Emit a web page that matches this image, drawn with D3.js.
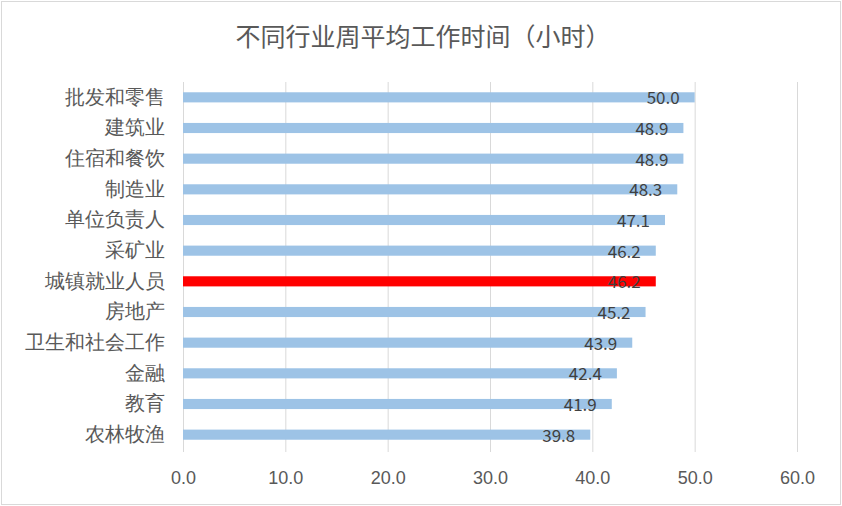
<!DOCTYPE html>
<html>
<head>
<meta charset="utf-8">
<script src="https://cdn.jsdelivr.net/npm/d3@7"></script>
<style>
  body { margin: 0; background: #fff; }
  svg { display: block; font-family: "Noto Sans CJK SC", "Noto Sans", sans-serif; }
</style>
</head>
<body>
<svg id="chart" width="842" height="506"></svg>
<script>
/* chart data */
const categories = ["批发和零售", "建筑业", "住宿和餐饮", "制造业", "单位负责人", "采矿业",
  "城镇就业人员", "房地产", "卫生和社会工作", "金融", "教育", "农林牧渔"];
const hours = [50.0, 48.9, 48.9, 48.3, 47.1, 46.2, 46.2, 45.2, 43.9, 42.4, 41.9, 39.8];
const highlight = "城镇就业人员";
const xTicks = [0, 10, 20, 30, 40, 50, 60];

const svg = d3.select("#chart");
const width = +svg.attr("width");
const height = +svg.attr("height");
const margin = { top: 82, right: 45, bottom: 56, left: 183 };
const innerWidth = width - margin.left - margin.right;
const innerHeight = height - margin.top - margin.bottom;

/* outer border */
svg.append("rect")
  .attr("x", 1.5).attr("y", 1.5)
  .attr("width", width - 3).attr("height", height - 3)
  .attr("fill", "#fff").attr("stroke", "#d9d9d9");

/* title */
svg.append("text")
  .attr("x", width / 2 + 2)
  .attr("y", 46)
  .attr("text-anchor", "middle")
  .style("font-size", "25px")
  .style("fill", "#595959")
  .text("不同行业周平均工作时间（小时）");

const xScale = d3.scaleLinear().domain([0, 60]).range([0, innerWidth]);
const yScale = d3.scaleBand().domain(categories).range([0, innerHeight]).paddingInner(0.67).paddingOuter(0.335);

const g = svg.append("g").attr("transform", `translate(${margin.left}, ${margin.top})`);

/* vertical gridlines */
g.append("g")
  .selectAll("line")
  .data(xTicks)
  .enter()
  .append("line")
  .attr("x1", (d) => xScale(d) + 0.5)
  .attr("x2", (d) => xScale(d) + 0.5)
  .attr("y1", 0)
  .attr("y2", innerHeight + 2)
  .attr("stroke", "#d9d9d9")
  .attr("stroke-width", 1);

/* x axis labels */
const xAxis = d3.axisBottom(xScale).tickValues(xTicks).tickFormat(d3.format(".1f")).tickSize(0).tickPadding(21);
const xg = g.append("g").attr("transform", `translate(0, ${innerHeight})`).call(xAxis);
xg.select(".domain").remove();
xg.selectAll("text").style("font-size", "18px").style("fill", "#595959").style("font-family", "inherit");

/* y axis labels */
const yAxis = d3.axisLeft(yScale).tickSize(0).tickPadding(18);
const yg = g.append("g").call(yAxis);
yg.select(".domain").remove();
yg.selectAll("text").style("font-size", "20px").style("fill", "#595959").style("font-family", "inherit");

/* bars */
g.selectAll("rect.bar")
  .data(categories)
  .enter()
  .append("rect")
  .attr("class", "bar")
  .attr("x", xScale(0))
  .attr("y", (d) => yScale(d))
  .attr("width", (d, i) => xScale(hours[i]))
  .attr("height", yScale.bandwidth())
  .attr("fill", (d) => (d === highlight ? "#ff0000" : "#9dc3e6"));

/* value labels */
g.selectAll("text.val")
  .data(categories)
  .enter()
  .append("text")
  .attr("class", "val")
  .attr("x", (d, i) => xScale(hours[i]) - 15)
  .attr("y", (d) => yScale(d) + yScale.bandwidth() / 2 + 7)
  .attr("text-anchor", "end")
  .style("font-size", "17px")
  .style("fill", "#404040")
  .text((d, i) => hours[i].toFixed(1));
</script>
</body>
</html>
